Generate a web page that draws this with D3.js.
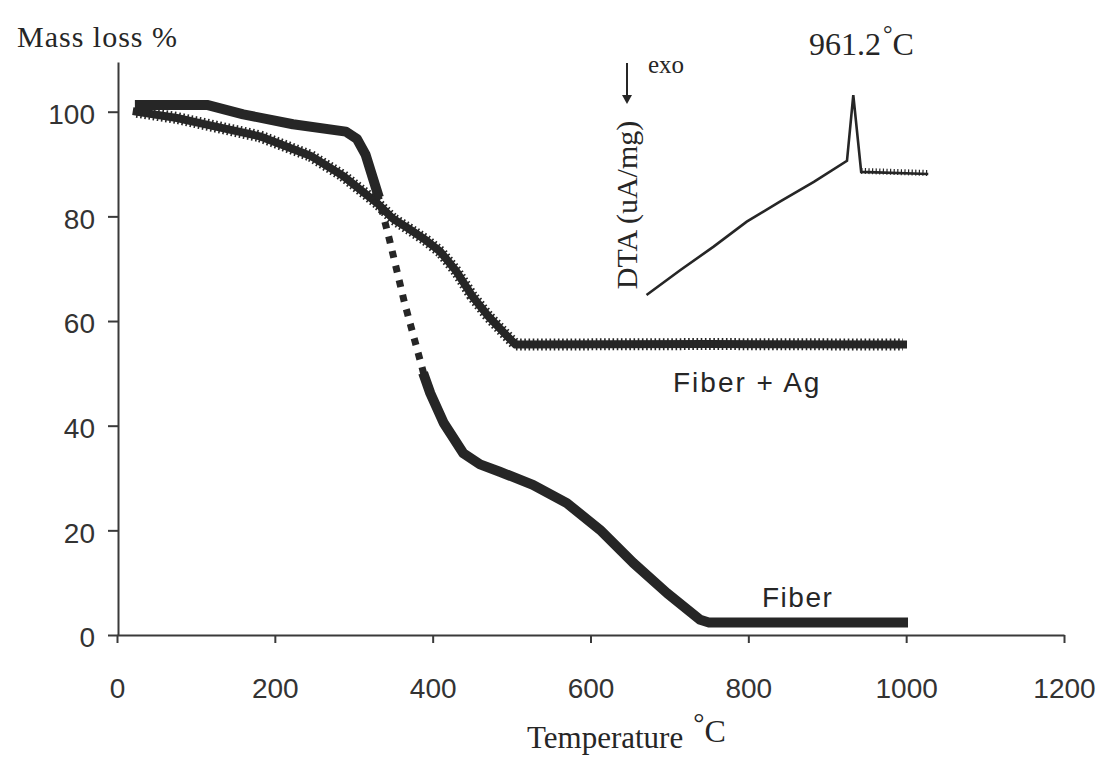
<!DOCTYPE html>
<html><head><meta charset="utf-8">
<script src="https://cdn.jsdelivr.net/npm/d3@7"></script>
<style>body{margin:0;background:#fff}svg{display:block}</style>
</head><body>
<svg id="c" width="1108" height="758"></svg>
<script>
// ---- data ----
const xTicks = [0, 200, 400, 600, 800, 1000, 1200];
const yTicks = [0, 20, 40, 60, 80, 100];

// Fiber (square markers)
const fiberT    = [29, 114, 160, 223, 290, 304, 315, 330, 345, 364, 390, 397, 414, 439, 460, 485, 527, 570, 612, 654, 697, 739, 750, 996];
const fiberMass = [101.3, 101.3, 99.5, 97.6, 96.2, 94.8, 91.8, 84.5, 75.7, 63.7, 49.2, 46.2, 40.5, 34.7, 32.6, 31.2, 28.7, 25.2, 20.1, 13.8, 8.0, 2.9, 2.4, 2.4];

// Fiber + Ag
const agT    = [25, 76, 118, 181, 245, 286, 330, 350, 370, 390, 410, 430, 450, 470, 490, 505, 750, 996];
const agMass = [100, 98.8, 97.4, 95.3, 91.6, 87.8, 82.5, 79.5, 77.6, 75.6, 73.2, 69.5, 64.8, 61, 57.8, 55.5, 55.6, 55.5];

// DTA inset (temperature on main axis, signal in arbitrary units)
const dtaT      = [671, 714, 756, 798, 840, 883, 925, 933, 943, 1028];
const dtaSignal = [2.4, 14.3, 25.4, 37.3, 46.8, 56.3, 66.3, 97.6, 61, 60];

const seriesLabels = ["Fiber + Ag", "Fiber"];
const peakLabel = "961.2";

// ---- drawing ----
const svg = d3.select("#c");
const ink = "#262626";
const x = d3.scaleLinear().domain([0, 1200]).range([117, 1064]);
const y = d3.scaleLinear().domain([0, 109.5]).range([635, 62]);
const dtaY = d3.scaleLinear().domain([0, 100]).range([300, 90]);

// axes
const xAxis = d3.axisBottom(x).tickValues(xTicks).tickSize(8).tickSizeOuter(0).tickFormat(d3.format("d"));
const gx = svg.append("g").attr("transform", "translate(0,635)").call(xAxis);
gx.select(".domain").attr("stroke", "#3a3a3a").attr("stroke-width", 2);
gx.selectAll(".tick line").attr("stroke", "#3a3a3a").attr("stroke-width", 2);
gx.selectAll(".tick text").attr("y", 63).attr("dy", 0)
  .attr("font-family", "'Liberation Sans', Arial, sans-serif").attr("font-size", 28).attr("fill", "#333");

const yAxis = d3.axisLeft(y).tickValues(yTicks).tickSize(10).tickSizeOuter(0).tickPadding(13);
const gy = svg.append("g").attr("transform", "translate(118,0)").call(yAxis);
gy.select(".domain").attr("stroke", "#3a3a3a").attr("stroke-width", 2);
gy.selectAll(".tick line").attr("stroke", "#3a3a3a").attr("stroke-width", 2);
gy.selectAll(".tick text").attr("dy", "0.42em")
  .attr("font-family", "'Liberation Sans', Arial, sans-serif").attr("font-size", 28).attr("fill", "#333");

// axis titles
svg.append("text").attr("x", 17).attr("y", 47)
  .attr("font-family", "'Liberation Serif', 'Times New Roman', serif").attr("font-size", 30)
  .attr("letter-spacing", 1).attr("fill", ink).text("Mass loss %");

const xt = svg.append("text").attr("x", 527).attr("y", 748)
  .attr("font-family", "'Liberation Serif', 'Times New Roman', serif").attr("font-size", 31).attr("fill", ink);
xt.append("tspan").text("Temperature");
xt.append("tspan").attr("dx", 10).attr("dy", -16).attr("font-size", 28).text("°");
xt.append("tspan").attr("dy", 10).attr("font-size", 32).text("C");

// line helpers
const line = d3.line().x(d => x(d.t)).y(d => y(d.v));

// Fiber + Ag curve
const ag = agT.map((t, i) => ({t, v: agMass[i]}));
svg.append("path").datum(ag).attr("d", line).attr("fill", "none")
  .attr("stroke", ink).attr("stroke-width", 8).attr("stroke-linejoin", "round").attr("stroke-linecap", "square");
svg.append("path").datum(ag).attr("d", line).attr("fill", "none")
  .attr("stroke", ink).attr("stroke-width", 12).attr("stroke-dasharray", "1.6 2.6");

// Fiber curve: dense parts look solid, steep (sparsely sampled) parts show separate squares
const fiber = fiberT.map((t, i) => ({t, v: fiberMass[i]}));
const runs = [];
for (let i = 0; i < fiber.length - 1; i++) {
  const a = fiber[i], b = fiber[i + 1];
  const steep = Math.abs((y(b.v) - y(a.v)) / (x(b.t) - x(a.t))) > 3.5;
  const last = runs[runs.length - 1];
  if (last && last.steep === steep) last.pts.push(b);
  else runs.push({steep, pts: [a, b]});
}
runs.forEach(r => {
  const p = svg.append("path").datum(r.pts).attr("d", line).attr("fill", "none").attr("stroke", ink);
  if (r.steep) p.attr("stroke-width", 7).attr("stroke-dasharray", "7 8");
  else p.attr("stroke-width", 10).attr("stroke-linejoin", "round").attr("stroke-linecap", "square");
});

// DTA inset
const dta = dtaT.map((t, i) => ({t, v: dtaSignal[i]}));
const dline = d3.line().x(d => x(d.t)).y(d => dtaY(d.v));
svg.append("path").datum(dta).attr("d", dline).attr("fill", "none")
  .attr("stroke", ink).attr("stroke-width", 2.6).attr("stroke-linejoin", "miter");
svg.append("path").datum(dta.slice(-2)).attr("d", dline).attr("fill", "none")
  .attr("stroke", ink).attr("stroke-width", 6).attr("stroke-dasharray", "1.2 2.4").attr("transform", "translate(0,-1)");

// DTA annotations
svg.append("text").attr("transform", "translate(637,205) rotate(-90)").attr("text-anchor", "middle")
  .attr("font-family", "'Liberation Serif', 'Times New Roman', serif").attr("font-size", 30).attr("fill", ink)
  .text("DTA (uA/mg)");
svg.append("line").attr("x1", 627).attr("x2", 627).attr("y1", 63).attr("y2", 96)
  .attr("stroke", ink).attr("stroke-width", 2);
svg.append("path").attr("d", "M622,95 L632,95 L627,104 Z").attr("fill", ink);
svg.append("text").attr("x", 648).attr("y", 73)
  .attr("font-family", "'Liberation Serif', 'Times New Roman', serif").attr("font-size", 25).attr("fill", ink).text("exo");
const pk = svg.append("text").attr("x", 809).attr("y", 55)
  .attr("font-family", "'Liberation Serif', 'Times New Roman', serif").attr("font-size", 32).attr("fill", ink);
pk.append("tspan").text(peakLabel);
pk.append("tspan").attr("dx", 2).attr("dy", -13).attr("font-size", 24).text("°");
pk.append("tspan").attr("dy", 13).text("C");

// series labels
const sans = "'Liberation Sans', Arial, sans-serif";
svg.append("text").attr("x", 673).attr("y", 392).attr("font-family", sans).attr("font-size", 28)
  .attr("letter-spacing", 2).attr("fill", ink).text(seriesLabels[0]);
svg.append("text").attr("x", 762).attr("y", 607).attr("font-family", sans).attr("font-size", 28)
  .attr("letter-spacing", 1.5).attr("fill", ink).text(seriesLabels[1]);
</script>
</body></html>
